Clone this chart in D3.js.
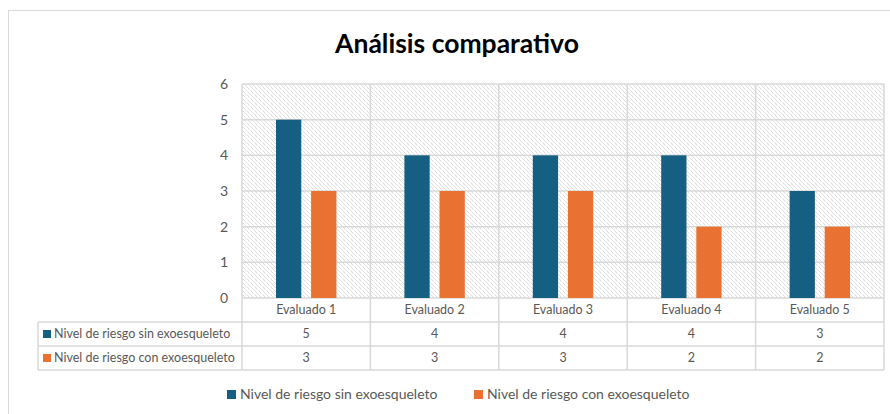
<!DOCTYPE html>
<html>
<head>
<meta charset="utf-8">
<script src="https://cdn.jsdelivr.net/npm/d3@7"></script>
<style>
  body { margin: 0; background: #fff; }
  svg { display: block; font-family: Lato, "Open Sans", sans-serif; }
</style>
</head>
<body>
<svg></svg>
<script>
const categories = ['Evaluado 1', 'Evaluado 2', 'Evaluado 3', 'Evaluado 4', 'Evaluado 5']
const seriesNames = ['Nivel de riesgo sin exoesqueleto', 'Nivel de riesgo con exoesqueleto']
const sinExo = [5, 4, 4, 4, 3]
const conExo = [3, 3, 3, 2, 2]
const yTicks = [0, 1, 2, 3, 4, 5, 6]
const colors = ['#156082', '#E97132']

const W = 890, H = 414
const plot = { left: 242, right: 884, top: 84, bottom: 298 }
const rowH = 24
const tableLeft = 38
const gridColor = '#d9d9d9'
const textColor = '#595959'

const svg = d3.select('svg').attr('width', W).attr('height', H)

// hatch pattern for the plot background
const defs = svg.append('defs')
defs.append('pattern')
  .attr('id', 'hatch')
  .attr('patternUnits', 'userSpaceOnUse')
  .attr('width', 4).attr('height', 4)
  .append('path')
  .attr('d', 'M-1,-1 l2,2 M0,0 l4,4 M3,3 l2,2')
  .attr('stroke', '#dadada')
  .attr('stroke-width', 0.7)

// outer chart border
svg.append('rect')
  .attr('x', 8.5).attr('y', 10.5)
  .attr('width', W).attr('height', H)
  .attr('fill', 'none').attr('stroke', gridColor)

svg.append('text')
  .text('Análisis comparativo')
  .attr('x', 457).attr('y', 53)
  .attr('text-anchor', 'middle')
  .attr('font-size', 26.5).attr('font-weight', 'bold')
  .attr('fill', '#000')

const x0 = d3.scaleBand().domain(categories).range([plot.left, plot.right])
const x1 = d3.scaleBand().domain([0, 1]).range([34, x0.bandwidth() - 34]).paddingInner(0.28)
const y = d3.scaleLinear().domain([0, 6]).range([plot.bottom, plot.top])

svg.append('rect')
  .attr('x', plot.left).attr('y', plot.top)
  .attr('width', plot.right - plot.left).attr('height', plot.bottom - plot.top)
  .attr('fill', 'url(#hatch)')

// horizontal gridlines
svg.append('g').selectAll('line')
  .data(yTicks)
  .enter()
  .append('line')
  .attr('x1', plot.left).attr('x2', plot.right)
  .attr('y1', d => y(d)).attr('y2', d => y(d))
  .attr('stroke', gridColor).attr('stroke-width', 1.5)

// y axis labels
const yAxis = d3.axisLeft(y).tickValues(yTicks).tickFormat(d3.format('d')).tickSize(0).tickPadding(14)
svg.append('g')
  .attr('transform', `translate(${plot.left}, 0)`)
  .call(yAxis)
  .call(g => g.select('.domain').remove())
  .call(g => g.selectAll('text').attr('fill', textColor).attr('font-size', 14).attr('font-family', 'Lato, sans-serif'))

// bars
const values = [sinExo, conExo]
const bars = svg.append('g')
values.forEach((vals, s) => {
  bars.selectAll(null)
    .data(vals)
    .enter()
    .append('rect')
    .attr('x', (d, i) => x0(categories[i]) + x1(s))
    .attr('y', d => y(d))
    .attr('width', x1.bandwidth())
    .attr('height', d => y(0) - y(d))
    .attr('fill', colors[s])
})

// data table
const tableBottom = plot.bottom + rowH * 3
const table = svg.append('g')

// vertical lines at category boundaries
const bounds = categories.map(c => x0(c)).concat([plot.right])
table.selectAll('line.v')
  .data(bounds)
  .enter()
  .append('line')
  .attr('x1', d => d).attr('x2', d => d)
  .attr('y1', plot.top).attr('y2', tableBottom)
  .attr('stroke', gridColor).attr('stroke-width', 1.5)

table.append('line')
  .attr('x1', tableLeft).attr('x2', tableLeft)
  .attr('y1', plot.bottom + rowH).attr('y2', tableBottom)
  .attr('stroke', gridColor).attr('stroke-width', 1.5)

;[plot.bottom + rowH, plot.bottom + rowH * 2, tableBottom].forEach(yy => {
  table.append('line')
    .attr('x1', tableLeft).attr('x2', plot.right)
    .attr('y1', yy).attr('y2', yy)
    .attr('stroke', gridColor).attr('stroke-width', 1.5)
})

table.selectAll('text.cat')
  .data(categories)
  .enter()
  .append('text')
  .text(d => d)
  .attr('x', d => x0(d) + x0.bandwidth() / 2)
  .attr('y', plot.bottom + rowH / 2 + 4)
  .attr('text-anchor', 'middle')
  .attr('font-size', 12.5).attr('fill', textColor)

values.forEach((vals, s) => {
  const rowY = plot.bottom + rowH * (s + 1)
  table.append('rect')
    .attr('x', 43).attr('y', rowY + 8)
    .attr('width', 8).attr('height', 8)
    .attr('fill', colors[s])
  table.append('text')
    .text(seriesNames[s])
    .attr('x', 54).attr('y', rowY + rowH / 2 + 4)
    .attr('font-size', 12.5).attr('fill', textColor)
  table.selectAll(null)
    .data(vals)
    .enter()
    .append('text')
    .text(d => d)
    .attr('x', (d, i) => x0(categories[i]) + x0.bandwidth() / 2)
    .attr('y', rowY + rowH / 2 + 4)
    .attr('text-anchor', 'middle')
    .attr('font-size', 12.5).attr('fill', textColor)
})

// legend
const legendX = [227, 474]
seriesNames.forEach((name, s) => {
  svg.append('rect')
    .attr('x', legendX[s]).attr('y', 390)
    .attr('width', 9).attr('height', 9)
    .attr('fill', colors[s])
  svg.append('text')
    .text(name)
    .attr('x', legendX[s] + 13).attr('y', 399)
    .attr('font-size', 14).attr('fill', textColor)
})
</script>
</body>
</html>
